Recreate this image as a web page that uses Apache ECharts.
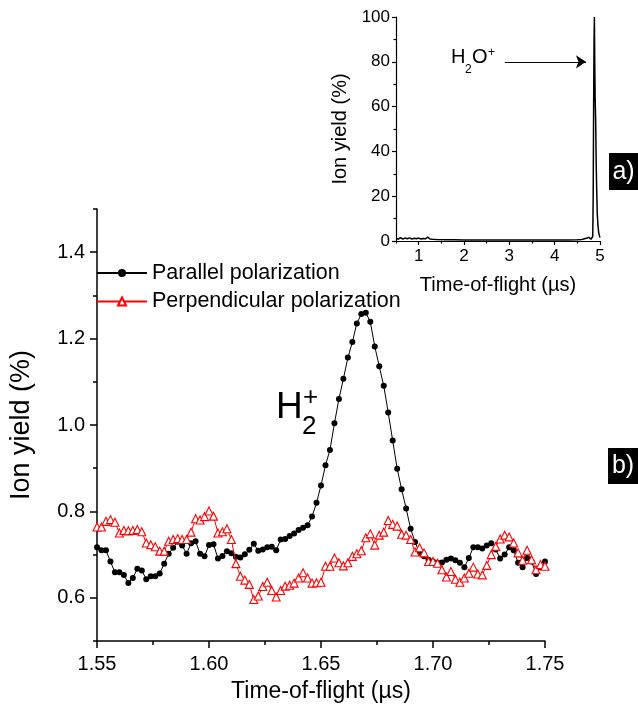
<!DOCTYPE html>
<html>
<head>
<meta charset="utf-8">
<script src="https://cdn.jsdelivr.net/npm/echarts@6/dist/echarts.min.js"></script>
<style>
html,body{margin:0;padding:0;background:#fff;}
#chart{width:638px;height:708px;}
</style>
</head>
<body>
<div id="chart"></div>
<script>
// ---- main panel (b) data ----
var times = [1.550,1.552,1.554,1.556,1.558,1.560,1.562,1.564,1.566,1.568,
1.570,1.572,1.574,1.576,1.578,1.580,1.582,1.584,1.586,1.588,
1.590,1.592,1.594,1.596,1.598,1.600,1.602,1.604,1.606,1.608,
1.610,1.612,1.614,1.616,1.618,1.620,1.622,1.624,1.626,1.628,
1.630,1.632,1.634,1.636,1.638,1.640,1.642,1.644,1.646,1.648,
1.650,1.652,1.654,1.656,1.658,1.660,1.662,1.664,1.666,1.668,
1.670,1.672,1.674,1.676,1.678,1.680,1.682,1.684,1.686,1.688,
1.690,1.692,1.694,1.696,1.698,1.700,1.702,1.704,1.706,1.708,
1.710,1.712,1.714,1.716,1.718,1.720,1.722,1.724,1.726,1.728,
1.730,1.732,1.734,1.736,1.738,1.740,1.742,1.744,1.746,1.748,1.750];

var parallel = [0.717,0.710,0.710,0.684,0.659,0.659,0.653,0.634,0.646,0.667,
0.663,0.643,0.650,0.650,0.656,0.679,0.702,0.716,0.730,0.721,
0.702,0.726,0.731,0.702,0.696,0.722,0.724,0.691,0.697,0.708,
0.703,0.695,0.693,0.701,0.711,0.725,0.709,0.712,0.717,0.718,
0.710,0.735,0.736,0.743,0.749,0.757,0.762,0.768,0.788,0.820,
0.860,0.907,0.942,1.004,1.060,1.107,1.156,1.192,1.235,1.257,
1.260,1.239,1.182,1.136,1.091,1.029,0.964,0.899,0.851,0.807,
0.760,0.729,0.704,0.696,0.688,0.684,0.681,0.682,0.688,0.691,
0.687,0.681,0.671,0.692,0.717,0.717,0.714,0.721,0.726,0.712,
0.691,0.700,0.717,0.710,0.681,0.671,0.692,0.684,0.655,0.671,0.684];

var perpendicular = [0.764,0.764,0.777,0.781,0.775,0.750,0.756,0.755,0.756,0.758,
0.753,0.727,0.723,0.718,0.708,0.708,0.731,0.735,0.737,0.735,
0.735,0.752,0.783,0.780,0.788,0.801,0.789,0.750,0.753,0.760,
0.735,0.679,0.650,0.641,0.631,0.596,0.604,0.626,0.636,0.617,
0.602,0.617,0.627,0.629,0.634,0.646,0.658,0.646,0.634,0.635,
0.636,0.673,0.673,0.692,0.681,0.674,0.681,0.696,0.702,0.709,
0.739,0.748,0.722,0.745,0.752,0.779,0.770,0.766,0.747,0.745,
0.735,0.706,0.716,0.704,0.684,0.684,0.680,0.665,0.648,0.661,
0.643,0.636,0.646,0.657,0.671,0.655,0.653,0.675,0.700,0.719,
0.736,0.745,0.741,0.727,0.704,0.687,0.710,0.688,0.665,0.677,0.673];

var seriesNames = ['Parallel polarization','Perpendicular polarization'];

var mainXTicks = [1.55,1.60,1.65,1.70,1.75];
var mainXMinor = [1.575,1.625,1.675,1.725];
var mainYTicks = [0.6,0.8,1.0,1.2,1.4];
var mainYMinor = [0.5,0.7,0.9,1.1,1.3,1.5];

// ---- inset panel (a) data ----
var insetTimes = [0.5,0.55,0.6,0.65,0.7,0.75,0.8,0.85,0.9,0.95,1.0,1.05,1.1,1.15,1.2,1.25,1.3,1.4,1.6,1.8,2.0,2.5,3.0,3.5,4.0,4.3,4.5,4.6,4.7,4.75,4.78,4.8,4.82,4.84,4.85,4.858,4.868,4.876,4.884,4.892,4.905,4.915,4.927,4.94,4.955,4.97,4.985,5.0];
var insetYield = [1.2,0.8,1.5,0.9,1.3,1.0,1.4,0.9,1.2,1.0,1.3,0.9,1.1,1.0,1.7,0.9,0.8,0.7,0.6,0.6,0.5,0.5,0.4,0.4,0.5,0.5,0.6,0.7,1.2,1.6,1.0,0.8,1.2,2.0,20,55,88,100,80,65,53,36,23,12,7,4,2.5,1.5];
var insetXTicks = [1,2,3,4,5];
var insetXMinor = [0.5,1.5,2.5,3.5,4.5];
var insetYTicks = [0,20,40,60,80,100];
var insetYMinor = [10,30,50,70,90];
var arrowFrom = [2.9,80];
var arrowTo = [4.69,80];

var FONT = '"Liberation Sans", Arial, Helvetica, sans-serif';

function pairs(xs, ys){ var o=[]; for(var i=0;i<xs.length;i++){ o.push([xs[i], ys[i]]); } return o; }

var chart = echarts.init(document.getElementById('chart'), null, {renderer:'canvas'});

var axisLine = {show:true, lineStyle:{color:'#000', width:1.5}};
var axisLineInset = {show:true, lineStyle:{color:'#000', width:1.2}};

var option = {
  animation:false,
  backgroundColor:'#fff',
  textStyle:{fontFamily:FONT},
  grid:[
    {left:95, top:209, width:450, height:432, containLabel:false},
    {left:396, top:17, width:204, height:224, containLabel:false}
  ],
  legend:{
    data:seriesNames,
    orient:'vertical',
    left:91, top:257,
    itemGap:6.5,
    itemWidth:50, itemHeight:10,
    textStyle:{fontSize:21.5, color:'#000', fontFamily:FONT},
    selectedMode:false
  },
  xAxis:[
    {gridIndex:0, type:'value', min:1.55, max:1.75, position:'bottom',
     axisLine:axisLine,
     axisTick:{show:true, inside:false, length:7, customValues:mainXTicks, lineStyle:{color:'#000',width:1.5}},
     axisLabel:{show:true, customValues:mainXTicks, margin:13, fontSize:20, color:'#000', fontFamily:FONT,
       formatter:function(v){return v.toFixed(2);}},
     splitLine:{show:false},
     name:'Time-of-flight (\u00b5s)', nameLocation:'middle', nameGap:39,
     nameTextStyle:{fontSize:23, color:'#000', fontFamily:FONT}},
    {gridIndex:0, type:'value', min:1.55, max:1.75, position:'bottom',
     axisLine:{show:false},
     axisTick:{show:true, inside:false, length:4, customValues:mainXMinor, lineStyle:{color:'#000',width:1.5}},
     axisLabel:{show:false}, splitLine:{show:false}},
    {gridIndex:1, type:'value', min:0.5, max:5, position:'bottom',
     axisLine:axisLineInset,
     axisTick:{show:true, inside:false, length:4, customValues:insetXTicks, lineStyle:{color:'#000',width:1.2}},
     axisLabel:{show:true, customValues:insetXTicks, margin:7, fontSize:17, color:'#000', fontFamily:FONT},
     splitLine:{show:false},
     name:'Time-of-flight (\u00b5s)', nameLocation:'middle', nameGap:34,
     nameTextStyle:{fontSize:20, color:'#000', fontFamily:FONT}},
    {gridIndex:1, type:'value', min:0.5, max:5, position:'bottom',
     axisLine:{show:false},
     axisTick:{show:true, inside:false, length:2.5, customValues:insetXMinor, lineStyle:{color:'#000',width:1.2}},
     axisLabel:{show:false}, splitLine:{show:false}}
  ],
  yAxis:[
    {gridIndex:0, type:'value', min:0.5, max:1.5, position:'left',
     axisLine:axisLine,
     axisTick:{show:true, inside:false, length:7, customValues:mainYTicks, lineStyle:{color:'#000',width:1.5}},
     axisLabel:{show:true, customValues:mainYTicks, margin:12, fontSize:20, color:'#000', fontFamily:FONT,
       formatter:function(v){return v.toFixed(1);}},
     splitLine:{show:false},
     name:'Ion yield (%)', nameLocation:'middle', nameGap:62, nameRotate:90,
     nameTextStyle:{fontSize:27, color:'#000', fontFamily:FONT}},
    {gridIndex:0, type:'value', min:0.5, max:1.5, position:'left',
     axisLine:{show:false},
     axisTick:{show:true, inside:false, length:4, customValues:mainYMinor, lineStyle:{color:'#000',width:1.5}},
     axisLabel:{show:false}, splitLine:{show:false}},
    {gridIndex:1, type:'value', min:0, max:100, position:'left',
     axisLine:axisLineInset,
     axisTick:{show:true, inside:false, length:4, customValues:insetYTicks, lineStyle:{color:'#000',width:1.2}},
     axisLabel:{show:true, customValues:insetYTicks, margin:6, fontSize:17, color:'#000', fontFamily:FONT},
     splitLine:{show:false},
     name:'Ion yield (%)', nameLocation:'middle', nameGap:46, nameRotate:90,
     nameTextStyle:{fontSize:20, color:'#000', fontFamily:FONT}},
    {gridIndex:1, type:'value', min:0, max:100, position:'left',
     axisLine:{show:false},
     axisTick:{show:true, inside:false, length:2.5, customValues:insetYMinor, lineStyle:{color:'#000',width:1.2}},
     axisLabel:{show:false}, splitLine:{show:false}}
  ],
  series:[
    {name:seriesNames[0], type:'line', xAxisIndex:0, yAxisIndex:0,
     data:pairs(times, parallel),
     symbol:'circle', symbolSize:6, showAllSymbol:true,
     itemStyle:{color:'#000'}, lineStyle:{color:'#000', width:1},
     emphasis:{disabled:true}, z:2},
    {name:seriesNames[1], type:'line', xAxisIndex:0, yAxisIndex:0,
     data:pairs(times, perpendicular),
     symbol:'triangle', symbolSize:8, showAllSymbol:true,
     itemStyle:{color:'#fff', borderColor:'#ff0000', borderWidth:1.1},
     lineStyle:{color:'#ff0000', width:1},
     emphasis:{disabled:true}, z:3},
    {name:'inset', type:'line', xAxisIndex:2, yAxisIndex:2,
     data:pairs(insetTimes, insetYield),
     showSymbol:false, symbol:'none',
     lineStyle:{color:'#000', width:1.5},
     emphasis:{disabled:true},
     markLine:{
       silent:true, animation:false,
       symbol:['none','arrow'], symbolSize:10,
       label:{show:false},
       lineStyle:{color:'#000', width:1.2, type:'solid'},
       emphasis:{disabled:true},
       data:[[{coord:arrowFrom},{coord:arrowTo}]]
     }}
  ],
  graphic:[
    // H2+ annotation
    {type:'text', style:{x:0,y:0,text:'H', fontSize:37, fontFamily:FONT, fill:'#000', textVerticalAlign:'middle'}, position:[276,408]},
    {type:'text', style:{x:0,y:0,text:'2', fontSize:26, fontFamily:FONT, fill:'#000', textVerticalAlign:'middle'}, position:[302,427]},
    {type:'text', style:{x:0,y:0,text:'+', fontSize:26, fontFamily:FONT, fill:'#000', textVerticalAlign:'middle'}, position:[303,398]},
    // H2O+ annotation
    {type:'text', style:{x:0,y:0,text:'H', fontSize:20, fontFamily:FONT, fill:'#000', textVerticalAlign:'middle'}, position:[451,57]},
    {type:'text', style:{x:0,y:0,text:'2', fontSize:12, fontFamily:FONT, fill:'#000', textVerticalAlign:'middle'}, position:[465,70]},
    {type:'text', style:{x:0,y:0,text:'O', fontSize:20, fontFamily:FONT, fill:'#000', textVerticalAlign:'middle'}, position:[472,57]},
    {type:'text', style:{x:0,y:0,text:'+', fontSize:12, fontFamily:FONT, fill:'#000', textVerticalAlign:'middle'}, position:[488,53]},
    // panel labels
    {type:'rect', shape:{x:609, y:153, width:29, height:37}, style:{fill:'#000'}},
    {type:'text', style:{x:0,y:0,text:'a)', fontSize:25, fontFamily:FONT, fill:'#fff', textAlign:'center', textVerticalAlign:'middle'}, position:[623.5,172]},
    {type:'rect', shape:{x:608, y:448, width:30, height:36}, style:{fill:'#000'}},
    {type:'text', style:{x:0,y:0,text:'b)', fontSize:25, fontFamily:FONT, fill:'#fff', textAlign:'center', textVerticalAlign:'middle'}, position:[623,466]}
  ]
};
chart.setOption(option);
</script>
</body>
</html>
